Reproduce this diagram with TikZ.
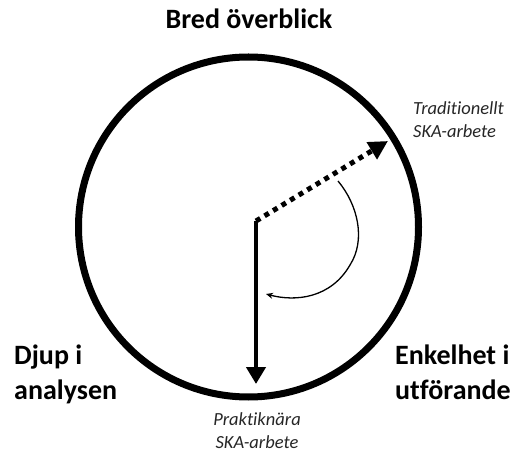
\documentclass[tikz,border=0pt]{standalone}
\usepackage{fontspec}
\setmainfont{Carlito}[Ligatures=NoCommon]
\usepackage{tikz}
\usetikzlibrary{arrows.meta}

\tikzset{
    storlbl/.style={font=\fontsize{28}{35}\selectfont\bfseries, align=left, inner sep=0pt},
    litenlbl/.style={font=\fontsize{18.5}{23}\selectfont\itshape, text=black!85, inner sep=0pt},
}

\begin{document}
\begin{tikzpicture}[x=1pt,y=-1pt]
        \useasboundingbox (0,0) rectangle (519,454);

        \draw[line width=7pt] (248.5,227) circle[radius=170pt];

        \coordinate (mitt) at (256,221);
        \coordinate (trad) at (388,141);
        \coordinate (prakt) at (256,384);
        \coordinate (bstart) at (338,181);
        \coordinate (bslut) at (266,294);

        % streckad pil -> traditionellt
        \draw[line width=5pt, dash pattern=on 5pt off 5pt, -{Triangle[length=19pt,width=19pt]}] (mitt) -- (trad);
        % hel pil -> praktiknära
        \draw[line width=4.5pt, -{Triangle[length=17pt,width=19pt]}] (mitt) -- (prakt);
        % tunn bage
        \draw[line width=1.3pt, -{Stealth[length=7pt,width=6pt]}] (bstart)
            .. controls (358,205) and (366,240) .. (350,265)
            .. controls (331,298) and (296,302) .. (bslut);

        \node[storlbl, anchor=base] (bred) at (249,29) {Bred överblick};
        \node[storlbl, anchor=base west] (djup) at (14,399) {Djup i\\analysen};
        \node[storlbl, anchor=base west] (enkel) at (395,399) {Enkelhet i\\utförande};

        \node[litenlbl, anchor=base west, align=left] (tradlbl) at (413,138) {Traditionellt\\SKA-arbete};
        \node[litenlbl, anchor=base, align=center] (praktlbl) at (257,448) {Praktiknära\\SKA-arbete};
\end{tikzpicture}
\end{document}
